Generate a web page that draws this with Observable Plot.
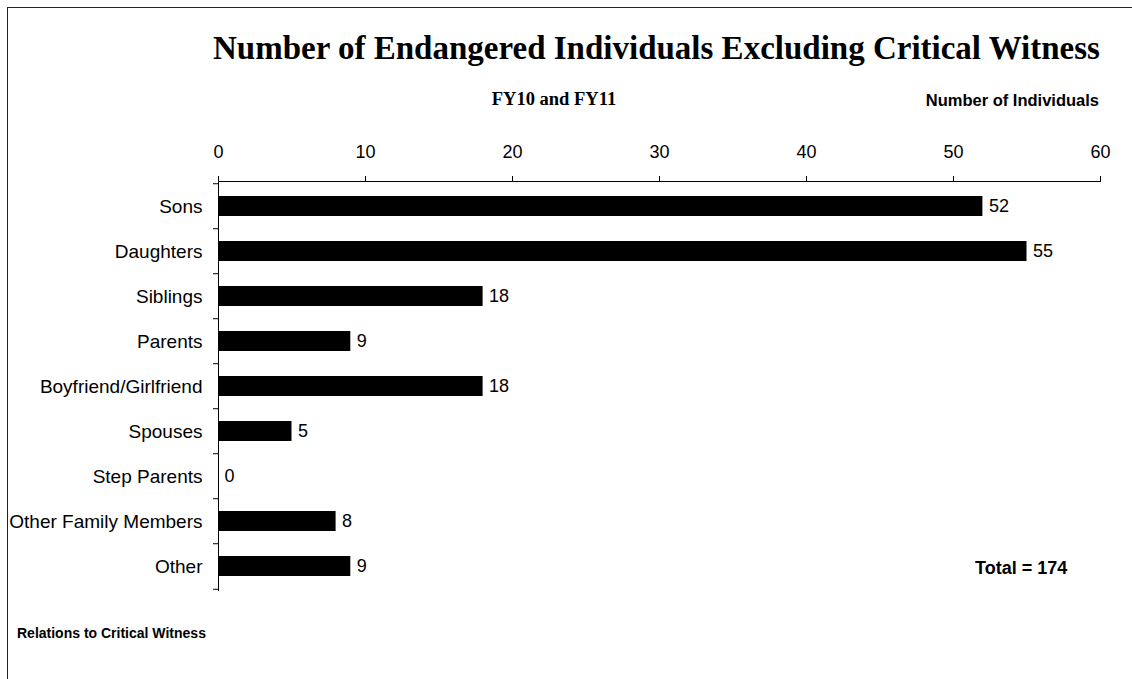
<!DOCTYPE html>
<html>
<head>
<meta charset="utf-8">
<script src="https://cdn.jsdelivr.net/npm/d3@7"></script>
<script src="https://cdn.jsdelivr.net/npm/@observablehq/plot@0.6"></script>
<style>
  html, body { margin: 0; padding: 0; background: #fff; overflow: hidden; }
  #wrap { position: relative; width: 1132px; height: 679px; overflow: hidden; }
  #frame { position: absolute; left: 7px; top: 7px; width: 2000px; height: 2000px; border-left: 1px solid #222; border-top: 1px solid #222; }
  #chart { position: absolute; left: 0; top: 0; }
  .t { position: absolute; white-space: nowrap; color: #000; line-height: 1; }
  #title { font-family: "Liberation Serif", serif; font-weight: bold; font-size: 33px; left: 0; width: 1313px; text-align: center; top: 32px; }
  #subtitle { font-family: "Liberation Serif", serif; font-weight: bold; font-size: 18.5px; left: 0; width: 1108px; text-align: center; top: 90px; }
  #xlabel { font-family: "Liberation Sans", Arial, sans-serif; font-weight: bold; font-size: 16.5px; right: 33px; top: 92px; }
  #total { font-family: "Liberation Sans", Arial, sans-serif; font-weight: bold; font-size: 18px; left: 975px; top: 559px; }
  #ylabel { font-family: "Liberation Sans", Arial, sans-serif; font-weight: bold; font-size: 14px; left: 17px; top: 626px; }
</style>
</head>
<body>
<div id="wrap">
  <div id="frame"></div>
  <div id="chart"></div>
  <div class="t" id="title">Number of Endangered Individuals Excluding Critical Witness</div>
  <div class="t" id="subtitle">FY10 and FY11</div>
  <div class="t" id="xlabel">Number of Individuals</div>
  <div class="t" id="total">Total = 174</div>
  <div class="t" id="ylabel">Relations to Critical Witness</div>
</div>
<script>
const categories = ["Sons", "Daughters", "Siblings", "Parents", "Boyfriend/Girlfriend", "Spouses", "Step Parents", "Other Family Members", "Other"];
const values = [52, 55, 18, 9, 18, 5, 0, 8, 9];
const xTicks = [0, 10, 20, 30, 40, 50, 60];

const data = categories.map((c, i) => ({ cat: c, value: values[i] }));

const W = 1132, H = 679, mTop = 181, mBottom = 88, mLeft = 218, mRight = 32;
const step = (H - mTop - mBottom) / categories.length;

const plot = Plot.plot({
  width: W,
  height: H,
  marginTop: mTop,
  marginBottom: mBottom,
  marginLeft: mLeft,
  marginRight: mRight,
  style: { fontFamily: "'Liberation Sans', Arial, sans-serif", fontSize: "18px", background: "transparent", color: "#000" },
  x: { domain: [0, 60], axis: null },
  y: { domain: categories, paddingInner: 0.55, paddingOuter: 0.275, axis: null },
  marks: [
    Plot.barX(data, { x: "value", y: "cat", fill: "#000" }),
    Plot.text(data, { x: "value", y: "cat", text: d => String(d.value), dx: 6, textAnchor: "start", fontSize: 18, fill: "#000" }),
    Plot.axisX({ anchor: "top", ticks: xTicks, tickSize: 6, tickPadding: 18, label: null, fontSize: 18, stroke: "#000" }),
    Plot.axisY({ tickSize: 0, tickPadding: 16, label: null, fontSize: 19 }),
    // boundary ticks between categories (top edges)
    Plot.axisY({ tickSize: 5, text: null, label: null, dy: -step / 2, stroke: "#000" }),
    // bottom boundary tick
    Plot.axisY(categories.slice(-1), { tickSize: 5, text: null, label: null, dy: step / 2, stroke: "#000" }),
    Plot.ruleX([0], { stroke: "#000" }),
    Plot.frame({ anchor: "top", stroke: "#000" })
  ]
});
document.getElementById("chart").appendChild(plot);
</script>
</body>
</html>
